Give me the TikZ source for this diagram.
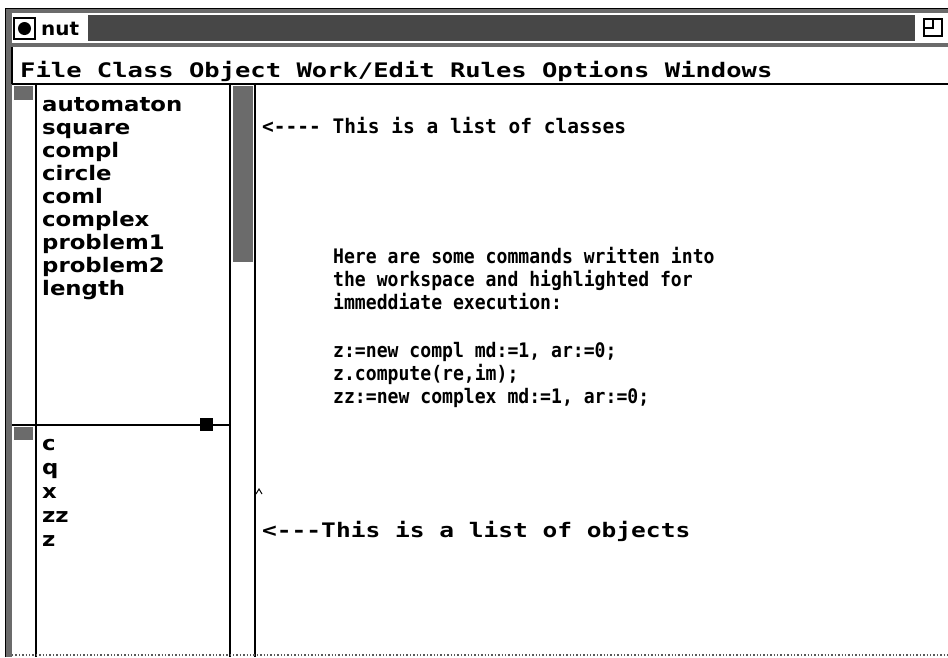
\documentclass[tikz,border=0pt]{standalone}
\usepackage{fontspec}
\usepackage{graphicx}
\newfontfamily\uimono{DejaVu Sans Mono}
\newfontfamily\uisans{DejaVu Sans}
% text helpers: mono and sans faces, squeezed or widened horizontally
\newcommand\mtext[2]{\scalebox{#1}[1]{\uimono\bfseries\fontsize{20}{24}\selectfont #2}}
\newcommand\ltext[1]{\scalebox{1.14}[1]{\uisans\bfseries\fontsize{20}{24}\selectfont #1}}
\newcommand\dsh{-\kern0pt}
\begin{document}
\begin{tikzpicture}[x=1pt,y=-1pt,
  rule/.style={line width=1.6pt},
  dither/.style={fill=black!58},
  darkdither/.style={fill=black!72},
  menuword/.style={anchor=base west,inner sep=0pt},
  item/.style={anchor=base west,inner sep=0pt},
  wsline/.style={anchor=base west,inner sep=0pt}]
\useasboundingbox (0,0) rectangle (948,657);
\fill[white] (0,0) rectangle (948,657);

% window border: gray band on the left and top
\fill[dither] (5,8) rectangle (12,657);
\fill[dither] (5,8) rectangle (948,13);
\draw[line width=1pt] (5,657) -- (5,8) -- (948,8);

% title bar
\fill[darkdither] (88,15) rectangle (915,41);
\draw[line width=1.5pt] (14,18) rectangle (35,39);
\fill (24.5,28.5) circle (6.5);
\node[anchor=base west,inner sep=0pt] (title) at (41,35)
  {\scalebox{1.05}[1]{\uisans\bfseries\fontsize{19}{22}\selectfont nut}};
% resize icon
\draw[line width=1.4pt] (924,19) rectangle (942,36);
\draw[line width=1.4pt] (933,19) -- (933,28) -- (924,28);

% border between title bar and menu bar
\fill[dither] (12,43) rectangle (948,47);

% menu bar
\draw[rule] (12,47) -- (12,84);
\draw[line width=2pt] (12,84) -- (948,84);
\node[menuword] (menu) at (20,77)
  {\mtext{1.275}{File Class Object Work/Edit Rules Options Windows}};

% panel dividers
\draw[rule] (36,84) -- (36,657);
\draw[rule] (230,84) -- (230,657);
\draw[rule] (255,84) -- (255,657);
\draw[rule] (12,425) -- (230,425);
\fill (200,418) rectangle (213,431);

% scroll thumbs
\fill[dither] (14,86) rectangle (33,100);
\fill[dither] (14,427) rectangle (33,440);
\fill[dither] (233,86) rectangle (253,262);

% bottom edge
\draw[black!65,line width=1.4pt,dotted] (12,655) -- (948,655);

% text cursor
\draw[line width=1pt] (256,494) -- (259,489) -- (262,494);

% class list
\node[item] (c1) at (42,111) {\ltext{automaton}};
\node[item] (c2) at (42,134) {\ltext{square}};
\node[item] (c3) at (42,157) {\ltext{compl}};
\node[item] (c4) at (42,180) {\ltext{circle}};
\node[item] (c5) at (42,203) {\ltext{coml}};
\node[item] (c6) at (42,226) {\ltext{complex}};
\node[item] (c7) at (42,249) {\ltext{problem1}};
\node[item] (c8) at (42,272) {\ltext{problem2}};
\node[item] (c9) at (42,295) {\ltext{length}};

% object list
\node[item] (o1) at (42,450) {\ltext{c}};
\node[item] (o2) at (42,474) {\ltext{q}};
\node[item] (o3) at (42,498) {\ltext{x}};
\node[item] (o4) at (42,522) {\ltext{zz}};
\node[item] (o5) at (42,546) {\ltext{z}};

% workspace
\node[wsline] (w0) at (262,133)
  {\mtext{0.975}{<\dsh\dsh\dsh- This is a list of classes}};
\node[wsline] (w1) at (333,263) {\mtext{0.905}{Here are some commands written into}};
\node[wsline] (w2) at (333,286) {\mtext{0.905}{the workspace and highlighted for}};
\node[wsline] (w3) at (333,309) {\mtext{0.905}{immeddiate execution:}};
\node[wsline] (w4) at (333,357) {\mtext{0.905}{z:=new compl md:=1, ar:=0;}};
\node[wsline] (w5) at (333,380) {\mtext{0.905}{z.compute(re,im);}};
\node[wsline] (w6) at (333,403) {\mtext{0.905}{zz:=new complex md:=1, ar:=0;}};
\node[wsline] (w7) at (262,537)
  {\mtext{1.226}{<\dsh\dsh-This is a list of objects}};
\end{tikzpicture}
\end{document}
